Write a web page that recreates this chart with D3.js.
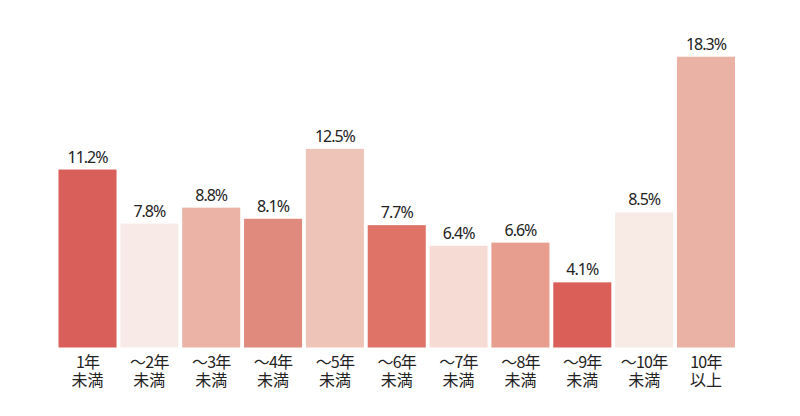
<!DOCTYPE html>
<html><head><meta charset="utf-8">
<script src="https://cdn.jsdelivr.net/npm/d3@7"></script>
<style>body{margin:0;background:#fff}svg{display:block}</style>
</head><body>
<svg id="c" width="800" height="416"></svg>
<script>
const categoriesLine1 = ["1年","～2年","～3年","～4年","～5年","～6年","～7年","～8年","～9年","～10年","10年"];
const categoriesLine2 = ["未満","未満","未満","未満","未満","未満","未満","未満","未満","未満","以上"];
const values = [11.2,7.8,8.8,8.1,12.5,7.7,6.4,6.6,4.1,8.5,18.3];
const colors = ["#d9605a","#f8ebe7","#eab3a6","#e0897d","#efc4b8","#df7368","#f5dbd3","#e79e8f","#d95f58","#f8ebe6","#eab2a4"];

const svg = d3.select("#c");
const idx = values.map((d,i)=>i);
const x = d3.scaleBand().domain(idx).range([58.5,735]).paddingInner(0.0615).paddingOuter(0);
const y = d3.scaleLinear().domain([0,18.3]).range([347.5,56.7]);

svg.selectAll("rect.bar").data(idx).join("rect")
  .attr("class","bar")
  .attr("x",i=>x(i)).attr("width",x.bandwidth())
  .attr("y",i=>y(values[i])).attr("height",i=>y(0)-y(values[i]))
  .attr("fill",i=>colors[i]);

svg.selectAll("text.val").data(idx).join("text")
  .attr("class","val")
  .attr("x",i=>x(i)+x.bandwidth()/2)
  .attr("y",i=>y(values[i])-7)
  .attr("text-anchor","middle")
  .attr("font-family","'Noto Sans', sans-serif")
  .attr("font-size",16)
  .attr("letter-spacing","-1")
  .attr("fill","#222")
  .text(i=>values[i].toFixed(1)+"%");

svg.selectAll("text.cat1").data(idx).join("text")
  .attr("class","cat1")
  .attr("x",i=>x(i)+x.bandwidth()/2).attr("y",368)
  .attr("text-anchor","middle")
  .attr("font-family","'Noto Sans CJK JP', sans-serif")
  .attr("font-size",16).attr("letter-spacing","-0.8")
  .attr("fill","#222")
  .text(i=>categoriesLine1[i]);
svg.selectAll("text.cat2").data(idx).join("text")
  .attr("class","cat2")
  .attr("x",i=>x(i)+x.bandwidth()/2).attr("y",386)
  .attr("text-anchor","middle")
  .attr("font-family","'Noto Sans CJK JP', sans-serif")
  .attr("font-size",16)
  .attr("fill","#222")
  .text(i=>categoriesLine2[i]);
</script>
</body></html>
